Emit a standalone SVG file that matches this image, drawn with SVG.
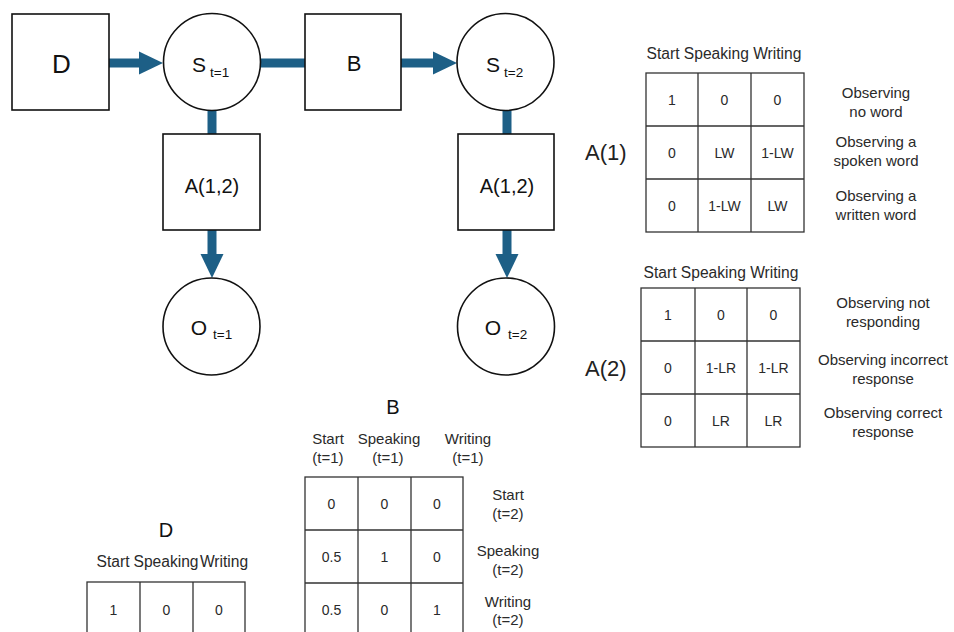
<svg xmlns="http://www.w3.org/2000/svg" width="954" height="632" viewBox="0 0 954 632">
  <style>
    .node { fill: #fff; stroke: #111; stroke-width: 1.6; }
    .big { font-family: "Liberation Sans", Arial, sans-serif; fill: #111; text-anchor: middle; }
    .sub { font-family: "Liberation Sans", Arial, sans-serif; fill: #111; font-size: 13.5px; }
    .conn { stroke: #1d5f86; stroke-width: 9; fill: none; }
    .grid { fill: none; stroke: #333; stroke-width: 1.3; }
    .t { font-family: "Liberation Sans", Arial, sans-serif; fill: #2a2a2a; font-size: 15px; text-anchor: middle; }
    .h { font-family: "Liberation Sans", Arial, sans-serif; fill: #2a2a2a; font-size: 15.6px; text-anchor: middle; }
    .v { font-family: "Liberation Sans", Arial, sans-serif; fill: #2a2a2a; font-size: 14px; text-anchor: middle; }
    .lbl { font-family: "Liberation Sans", Arial, sans-serif; fill: #222; font-size: 22px; }
    .ttl { font-family: "Liberation Sans", Arial, sans-serif; fill: #111; font-size: 20px; text-anchor: middle; }
  </style>
  <defs>
    <marker id="head" markerUnits="userSpaceOnUse" markerWidth="24" markerHeight="24" refX="0" refY="12" orient="auto">
      <path d="M0,0.5 L24,12 L0,23.5 z" fill="#1d5f86"/>
    </marker>
  </defs>
  <rect width="954" height="632" fill="#fff"/>

  <!-- connectors -->
  <g id="connectors">
    <line class="conn" x1="109" y1="63" x2="139" y2="63" marker-end="url(#head)"/>
    <line class="conn" x1="260" y1="63" x2="305" y2="63"/>
    <line class="conn" x1="401" y1="63" x2="433" y2="63" marker-end="url(#head)"/>
    <line class="conn" x1="212" y1="110" x2="212" y2="134"/>
    <line class="conn" x1="507" y1="110" x2="507" y2="134"/>
    <line class="conn" x1="212" y1="230" x2="212" y2="254" marker-end="url(#head)"/>
    <line class="conn" x1="507" y1="230" x2="507" y2="254" marker-end="url(#head)"/>
  </g>

  <!-- nodes -->
  <g id="node-D">
    <rect class="node" x="12" y="14" width="97" height="96"/>
    <text class="big" x="61.5" y="73" font-size="26">D</text>
  </g>
  <g id="node-S1">
    <circle class="node" cx="212" cy="62" r="48.5"/>
    <text class="big" x="199" y="72" font-size="21">S</text>
    <text class="sub" x="210" y="77">t=1</text>
  </g>
  <g id="node-B">
    <rect class="node" x="305" y="14" width="96" height="96"/>
    <text class="big" x="354" y="71" font-size="22">B</text>
  </g>
  <g id="node-S2">
    <circle class="node" cx="505.5" cy="62" r="48.5"/>
    <text class="big" x="493" y="72" font-size="21">S</text>
    <text class="sub" x="504" y="77">t=2</text>
  </g>
  <g id="node-A1">
    <rect class="node" x="163" y="134" width="97" height="96"/>
    <text class="big" x="212" y="193" font-size="20">A(1,2)</text>
  </g>
  <g id="node-A2">
    <rect class="node" x="458" y="134" width="96" height="96"/>
    <text class="big" x="507" y="193" font-size="20">A(1,2)</text>
  </g>
  <g id="node-O1">
    <circle class="node" cx="211.5" cy="326.5" r="48.5"/>
    <text class="big" x="199" y="335" font-size="21">O</text>
    <text class="sub" x="213" y="339">t=1</text>
  </g>
  <g id="node-O2">
    <circle class="node" cx="506" cy="326.5" r="48.5"/>
    <text class="big" x="493" y="335" font-size="21">O</text>
    <text class="sub" x="508" y="339">t=2</text>
  </g>

  <!-- A(1) likelihood table -->
  <g id="table-A1">
    <text class="h" x="724" y="59">Start Speaking Writing</text>
    <text class="lbl" x="585" y="160">A(1)</text>
    <rect class="grid" x="646" y="73" width="158" height="159"/>
    <path class="grid" d="M698,73V232M751,73V232M646,126H804M646,179H804"/>
    <text class="v" x="672" y="104.5">1</text>
    <text class="v" x="724.5" y="104.5">0</text>
    <text class="v" x="777.5" y="104.5">0</text>
    <text class="v" x="672" y="157.5">0</text>
    <text class="v" x="724.5" y="157.5">LW</text>
    <text class="v" x="777.5" y="157.5">1-LW</text>
    <text class="v" x="672" y="210.5">0</text>
    <text class="v" x="724.5" y="210.5">1-LW</text>
    <text class="v" x="777.5" y="210.5">LW</text>
    <text class="t" x="876" y="98">Observing</text>
    <text class="t" x="876" y="117">no word</text>
    <text class="t" x="876" y="147">Observing a</text>
    <text class="t" x="876" y="166">spoken word</text>
    <text class="t" x="876" y="201">Observing a</text>
    <text class="t" x="876" y="220">written word</text>
  </g>

  <!-- A(2) likelihood table -->
  <g id="table-A2">
    <text class="h" x="721" y="278">Start Speaking Writing</text>
    <text class="lbl" x="585" y="376">A(2)</text>
    <rect class="grid" x="641" y="288" width="159" height="159"/>
    <path class="grid" d="M695,288V447M747,288V447M641,341H800M641,394H800"/>
    <text class="v" x="668" y="319.5">1</text>
    <text class="v" x="721" y="319.5">0</text>
    <text class="v" x="773.5" y="319.5">0</text>
    <text class="v" x="668" y="372.5">0</text>
    <text class="v" x="721" y="372.5">1-LR</text>
    <text class="v" x="773.5" y="372.5">1-LR</text>
    <text class="v" x="668" y="425.5">0</text>
    <text class="v" x="721" y="425.5">LR</text>
    <text class="v" x="773.5" y="425.5">LR</text>
    <text class="t" x="883" y="308">Observing not</text>
    <text class="t" x="883" y="327">responding</text>
    <text class="t" x="883" y="365">Observing incorrect</text>
    <text class="t" x="883" y="384">response</text>
    <text class="t" x="883" y="418">Observing correct</text>
    <text class="t" x="883" y="437">response</text>
  </g>

  <!-- B transition table -->
  <g id="table-B">
    <text class="ttl" x="393" y="414">B</text>
    <text class="t" x="328" y="444">Start</text>
    <text class="t" x="328" y="463">(t=1)</text>
    <text class="t" x="389" y="444">Speaking</text>
    <text class="t" x="388" y="463">(t=1)</text>
    <text class="t" x="468" y="444">Writing</text>
    <text class="t" x="468" y="463">(t=1)</text>
    <rect class="grid" x="305" y="477" width="158" height="159"/>
    <path class="grid" d="M358,477V636M411,477V636M305,530H463M305,583H463"/>
    <text class="v" x="331.5" y="508.5">0</text>
    <text class="v" x="384.5" y="508.5">0</text>
    <text class="v" x="437" y="508.5">0</text>
    <text class="v" x="331.5" y="561.5">0.5</text>
    <text class="v" x="384.5" y="561.5">1</text>
    <text class="v" x="437" y="561.5">0</text>
    <text class="v" x="331.5" y="614.5">0.5</text>
    <text class="v" x="384.5" y="614.5">0</text>
    <text class="v" x="437" y="614.5">1</text>
    <text class="t" x="508" y="500">Start</text>
    <text class="t" x="508" y="519">(t=2)</text>
    <text class="t" x="508" y="556">Speaking</text>
    <text class="t" x="508" y="575">(t=2)</text>
    <text class="t" x="508" y="607">Writing</text>
    <text class="t" x="508" y="625">(t=2)</text>
  </g>

  <!-- D initial-state table -->
  <g id="table-D">
    <text class="ttl" x="166" y="537">D</text>
    <text class="h" x="113" y="567">Start</text>
    <text class="h" x="166" y="567">Speaking</text>
    <text class="h" x="224" y="567">Writing</text>
    <rect class="grid" x="87" y="582" width="158" height="60"/>
    <path class="grid" d="M140,582V642M193,582V642"/>
    <text class="v" x="113.5" y="615">1</text>
    <text class="v" x="166.5" y="615">0</text>
    <text class="v" x="219" y="615">0</text>
  </g>
</svg>
